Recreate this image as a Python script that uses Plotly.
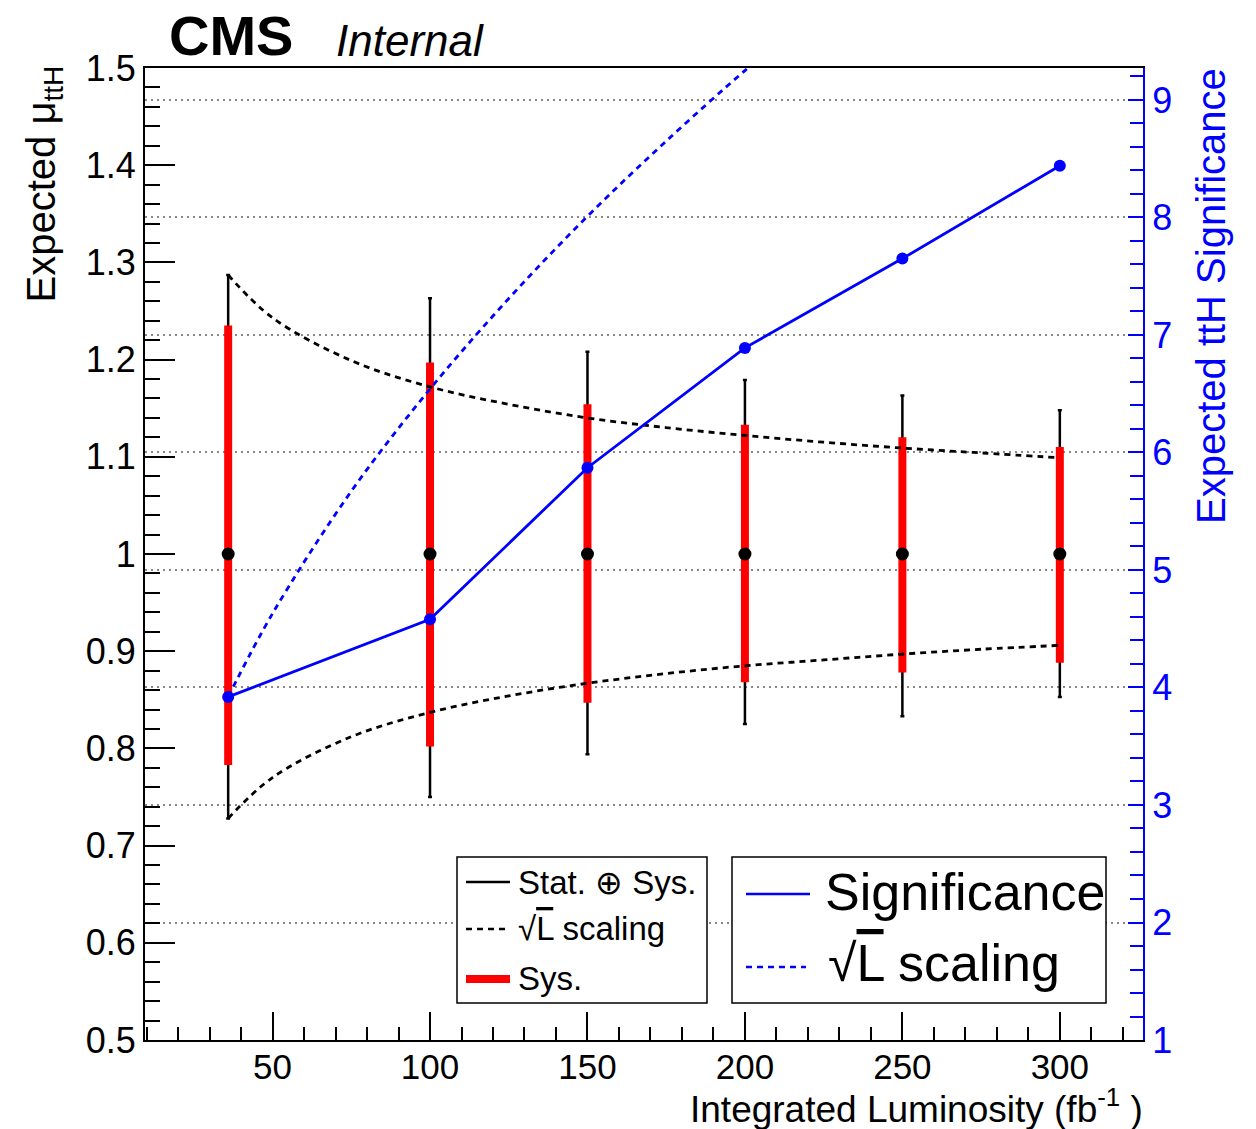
import plotly.graph_objects as go

# ---------------- data ----------------
lumi = [35.9, 100, 150, 200, 250, 300]
mu = [1.0, 1.0, 1.0, 1.0, 1.0, 1.0]
tot_up = [0.287, 0.263, 0.208, 0.179, 0.163, 0.148]
tot_dn = [0.272, 0.250, 0.206, 0.175, 0.167, 0.147]
sys_up = [0.235, 0.197, 0.154, 0.133, 0.120, 0.110]
sys_dn = [0.217, 0.198, 0.153, 0.132, 0.122, 0.112]

signif = [3.92, 4.58, 5.87, 6.89, 7.65, 8.44]

scal_x = [35.9, 50, 75, 100, 125, 150, 175, 200, 225, 250, 275, 300]
scal_up = [1.287, 1.243, 1.199, 1.172, 1.154, 1.140, 1.130, 1.122, 1.115, 1.109, 1.104, 1.099]
scal_dn = [0.728, 0.770, 0.812, 0.837, 0.854, 0.867, 0.877, 0.885, 0.891, 0.897, 0.902, 0.906]

sig_scal_x = [35.9, 50, 75, 100, 125, 150, 175, 200, 210]
sig_scal_y = [3.92, 4.63, 5.67, 6.54, 7.31, 8.01, 8.65, 9.25, 9.47]

FONT = "Liberation Sans, Arial, Helvetica, sans-serif"
BLUE = "#0000ff"
W, H = 1256, 1129
L, R, T, B = 145, 1143, 68, 1040


def xp(px):
    return (px - L) / (R - L)


def yp(py):
    return (B - py) / (B - T)


fig = go.Figure()

# total uncertainty (black)
fig.add_trace(go.Scatter(
    x=lumi, y=mu, mode="markers",
    marker=dict(size=1, color="rgba(0,0,0,0)"),
    error_y=dict(type="data", symmetric=False, array=tot_up, arrayminus=tot_dn,
                 color="black", thickness=2.5, width=2),
    showlegend=False, hoverinfo="skip"))
# systematic uncertainty (red)
fig.add_trace(go.Scatter(
    x=lumi, y=mu, mode="markers",
    marker=dict(size=1, color="rgba(0,0,0,0)"),
    error_y=dict(type="data", symmetric=False, array=sys_up, arrayminus=sys_dn,
                 color="#ff0000", thickness=8, width=0),
    showlegend=False, hoverinfo="skip"))
# sqrt(L) scaling curves (black dashed)
for ys in (scal_up, scal_dn):
    fig.add_trace(go.Scatter(
        x=scal_x, y=ys, mode="lines", line=dict(color="black", width=2.8, dash="6px,5px", shape="spline"),
        showlegend=False, hoverinfo="skip"))
# central points
fig.add_trace(go.Scatter(
    x=lumi, y=mu, mode="markers", marker=dict(size=13, color="black"),
    showlegend=False))

# significance (right axis)
fig.add_trace(go.Scatter(
    x=sig_scal_x, y=sig_scal_y, yaxis="y2", mode="lines",
    line=dict(color=BLUE, width=2.8, dash="6px,5px", shape="spline"),
    showlegend=False, hoverinfo="skip"))
fig.add_trace(go.Scatter(
    x=lumi, y=signif, yaxis="y2", mode="lines+markers",
    line=dict(color=BLUE, width=2.8), marker=dict(size=12, color=BLUE),
    showlegend=False))

tickfont = dict(family=FONT, size=36, color="black")

fig.update_layout(
    width=W, height=H,
    margin=dict(l=L, r=W - R, t=T, b=H - B, pad=0),
    paper_bgcolor="white", plot_bgcolor="white",
    font=dict(family=FONT, color="black"),
    xaxis=dict(
        range=[9.49, 326.41], showgrid=False, zeroline=False,
        showline=True, linecolor="black", linewidth=2, mirror=True,
        ticks="inside", ticklen=28, tickwidth=2, tickcolor="black",
        tick0=0, dtick=50, tickfont=dict(family=FONT, size=35, color="black"),
        ticklabelstandoff=-5,
        minor=dict(ticks="inside", ticklen=13, tickwidth=1.5, tickcolor="black", dtick=10, tick0=0, showgrid=False),
    ),
    yaxis=dict(
        range=[0.5, 1.5], showgrid=False, zeroline=False,
        showline=True, linecolor="black", linewidth=2,
        ticks="inside", ticklen=30, tickwidth=2, tickcolor="black",
        tick0=0.5, dtick=0.1, tickfont=tickfont,
        minor=dict(ticks="inside", ticklen=15, tickwidth=1.5, tickcolor="black", dtick=0.02, tick0=0.5, showgrid=False),
    ),
    yaxis2=dict(
        overlaying="y", side="right", anchor="x",
        range=[1, 9.272], zeroline=False,
        showgrid=True, gridcolor="#888888", gridwidth=2, griddash="2px,4px",
        showline=True, linecolor=BLUE, linewidth=2,
        ticks="inside", ticklen=15, tickwidth=2, tickcolor=BLUE,
        tick0=1, dtick=1, tickfont=dict(family=FONT, size=36, color=BLUE),
        minor=dict(ticks="inside", ticklen=13, tickwidth=1.5, tickcolor=BLUE, dtick=0.2, tick0=1, showgrid=False),
    ),
)

shapes = []
annotations = []

# legend boxes
for x0, x1 in ((457, 707), (732, 1106)):
    shapes.append(dict(type="rect", xref="paper", yref="paper",
                       x0=xp(x0), x1=xp(x1), y0=yp(1003), y1=yp(857),
                       line=dict(color="black", width=1.5), fillcolor="white", layer="above"))


def legline(x0, x1, y, color, width, dash="solid"):
    shapes.append(dict(type="line", xref="paper", yref="paper",
                       x0=xp(x0), x1=xp(x1), y0=yp(y), y1=yp(y),
                       line=dict(color=color, width=width, dash=dash), layer="above"))


def legtext(x, y, text, size, color="black"):
    annotations.append(dict(xref="paper", yref="paper", x=xp(x), y=yp(y),
                            xanchor="left", yanchor="middle", showarrow=False,
                            text=text, font=dict(family=FONT, size=size, color=color)))


OL = '√<span style="text-decoration:overline">L</span>'

legline(466, 510, 882, "black", 2.5)
legtext(516, 882, "Stat. ⊕ Sys.", 33)
legline(466, 510, 929, "black", 2.5, "6px,5px")
legtext(516, 928, OL + " scaling", 33)
legline(466, 510, 979, "#ff0000", 8)
legtext(516, 978, "Sys.", 33)

legline(746, 810, 894, BLUE, 2.5)
legtext(823, 892, "Significance", 52)
legline(746, 806, 967, BLUE, 2.5, "6px,5px")
legtext(826, 963, OL + " scaling", 52)

# CMS label
annotations.append(dict(xref="paper", yref="paper", x=xp(167), y=yp(36),
                        xanchor="left", yanchor="middle", showarrow=False,
                        text="<b>CMS</b>", font=dict(family=FONT, size=56, color="black")))
annotations.append(dict(xref="paper", yref="paper", x=xp(334), y=yp(40),
                        xanchor="left", yanchor="middle", showarrow=False,
                        text="<i>Internal</i>", font=dict(family=FONT, size=44, color="black")))

# axis titles
annotations.append(dict(xref="paper", yref="paper", x=xp(44), y=yp(64),
                        xanchor="center", yanchor="top", showarrow=False, textangle=-90,
                        text="Expected μ<sub>ttH</sub>", font=dict(family=FONT, size=40, color="black")))
annotations.append(dict(xref="paper", yref="paper", x=xp(1211), y=yp(66),
                        xanchor="center", yanchor="top", showarrow=False, textangle=-90,
                        text="Expected ttH Significance", font=dict(family=FONT, size=40, color=BLUE)))
annotations.append(dict(xref="paper", yref="paper", x=xp(1145), y=yp(1106),
                        xanchor="right", yanchor="middle", showarrow=False,
                        text="Integrated Luminosity (fb<sup>-1</sup> )", font=dict(family=FONT, size=37, color="black")))

fig.update_layout(shapes=shapes, annotations=annotations)

fig.write_html("out.html")
